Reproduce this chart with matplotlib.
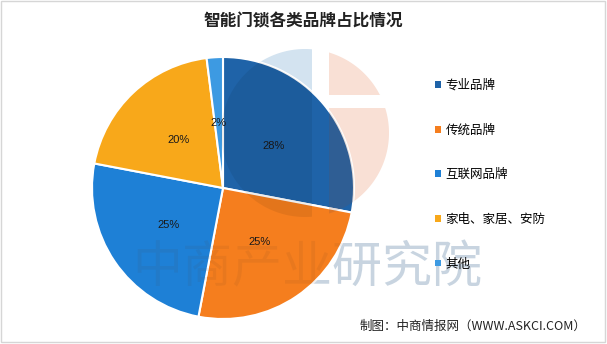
import numpy as np
import matplotlib
matplotlib.use('Agg')
import matplotlib.pyplot as plt
from matplotlib.patches import Circle, Rectangle, Polygon, Patch

plt.rcParams['font.family'] = ['Noto Sans CJK SC', 'DejaVu Sans']

# brand share of smart door locks (%)
brands = ['专业品牌', '传统品牌', '互联网品牌', '家电、家居、安防', '其他']
shares = [28, 25, 25, 20, 2]
colors = ['#1F63A8', '#F57E1E', '#1E80D6', '#F8A81A', '#3D9AE2']

title = '智能门锁各类品牌占比情况'
source = '制图：中商情报网（WWW.ASKCI.COM）'
watermark = '中商产业研究院'

W, H = 607, 344
fig = plt.figure(figsize=(W / 100, H / 100), dpi=100)
fig.patch.set_facecolor('white')


def pixel_axes(z):
    a = fig.add_axes([0, 0, 1, 1], zorder=z)
    a.set_xlim(0, W)
    a.set_ylim(H, 0)
    a.axis('off')
    a.patch.set_alpha(0)
    return a


def logo_pieces(lx, ly, lr):
    # circle split by a vertical gap, right half split again by a horizontal gap
    t = np.linspace(0, 2 * np.pi, 400)
    px, py = lx + lr * np.cos(t), ly + lr * np.sin(t)
    left = np.column_stack([np.minimum(px, 312), py])
    rtop = np.column_stack([np.maximum(px, 329), np.minimum(py, 95)])
    rbot = np.column_stack([np.maximum(px, 329), np.maximum(py, 108)])
    return [left, rtop, rbot]


# pie, centre ~(223,188) px, radius ~131 px
cx, cy, r = 223, 188, 131

back = pixel_axes(0)
for pts, col in zip(logo_pieces(305, 133, 84), ['#D3E3F0', '#F9E0D5', '#F9E0D5']):
    back.add_patch(Polygon(pts, closed=True, facecolor=col, edgecolor='none'))
back.text(482, 268, watermark, ha='right', va='center', fontsize=36, color='#D2E2F0')

ax = fig.add_axes([(cx - r) / W, 1 - (cy + r) / H, 2 * r / W, 2 * r / H], zorder=1)
wedges, texts, autotexts = ax.pie(
    shares, colors=colors, startangle=90, counterclock=False,
    autopct='%d%%', pctdistance=0.5,
    wedgeprops=dict(edgecolor='white', linewidth=1.5, clip_on=False),
    textprops=dict(fontsize=8, color='#1a1a1a', family=['Liberation Sans', 'DejaVu Sans']))
ax.set_xlim(-1, 1)
ax.set_ylim(-1, 1)
ax.set_aspect('auto')

# logo and site name shading the pie itself
top = pixel_axes(5)
for pts, col, a in zip(logo_pieces(305, 133, 84), ['black', '#7A4A3A', '#7A4A3A'], [0.07, 0.18, 0.18]):
    p = Polygon(pts, closed=True, facecolor=col, edgecolor='none', alpha=a)
    top.add_patch(p)
    p.set_clip_path(Circle((cx, cy), r, transform=top.transData))
wm = top.text(482, 268, watermark, ha='right', va='center', fontsize=36, color='#5A3A2A', alpha=0.08)
wm.set_clip_path(Circle((cx, cy), r, transform=top.transData))

# legend on the right
handles = [Patch(facecolor=c, edgecolor='none') for c in colors]
fig.legend(handles, brands, loc='upper left', bbox_to_anchor=(430 / W, 1 - 74 / H),
           frameon=False, fontsize=9, handlelength=0.45, handleheight=0.45,
           handletextpad=0.4, labelspacing=2.53, borderaxespad=0)

fig.text(303 / W, 1 - 21 / H, title, ha='center', va='center',
         fontsize=12, fontweight='bold', color='#222222')
fig.text(586 / W, 1 - 326 / H, source, ha='right', va='center',
         fontsize=9, color='#222222')

# thin grey frame
top.add_patch(Rectangle((1, 1), W - 3, H - 3, fill=False, edgecolor='#D6D6D6', linewidth=1))

fig.savefig('out.png', dpi=100, facecolor='white')
